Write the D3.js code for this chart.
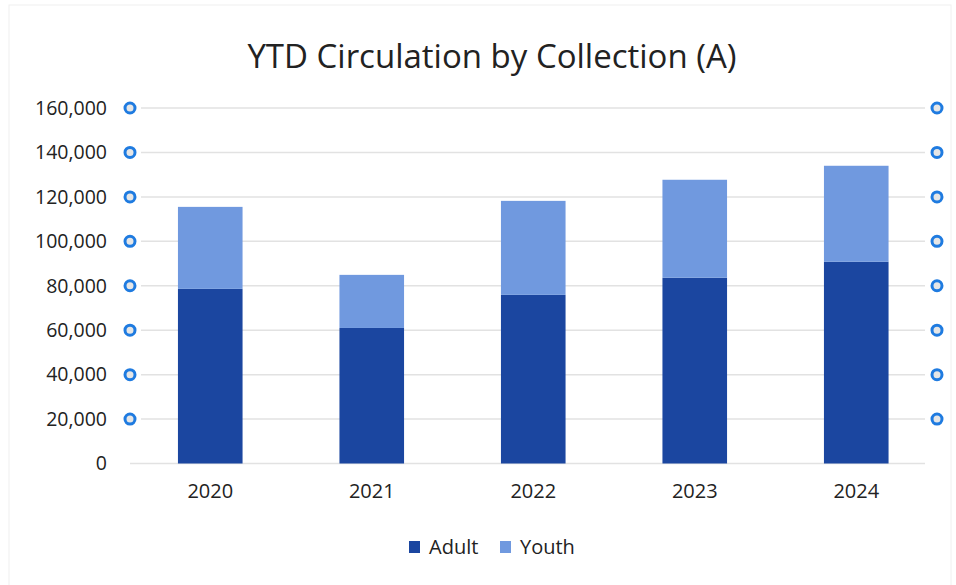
<!DOCTYPE html>
<html>
<head>
<meta charset="utf-8">
<script src="https://cdn.jsdelivr.net/npm/d3@7"></script>
<style>
  body { margin: 0; background: #fff; }
  text { font-family: "Open Sans", "Noto Sans", sans-serif; fill: #222; }
</style>
</head>
<body>
<div id="chart"></div>
<script>
// values
const years = ["2020", "2021", "2022", "2023", "2024"];
const adult = [78600, 61000, 75900, 83600, 90800];
const youth = [36900, 23900, 42300, 44100, 43200];
const yTicks = [0, 20000, 40000, 60000, 80000, 100000, 120000, 140000, 160000];
const seriesNames = ["Adult", "Youth"];
const seriesColors = ["#1b46a0", "#7099df"];

const width = 956, height = 585;

const svg = d3.select("#chart").append("svg")
    .attr("width", width)
    .attr("height", height);

// faint scan border
svg.append("rect")
    .attr("x", 9).attr("y", 5)
    .attr("width", width - 14).attr("height", height - 4)
    .attr("fill", "none")
    .attr("stroke", "#f0f0f0");

svg.append("text")
    .attr("x", 492).attr("y", 68)
    .attr("text-anchor", "middle")
    .style("font-size", "33px")
    .text("YTD Circulation by Collection (A)");

const table = years.map((yr, i) => ({year: yr, Adult: adult[i], Youth: youth[i]}));
const stacked = d3.stack().keys(seriesNames)(table);

const x = d3.scaleBand()
    .domain(years)
    .range([129.5, 937])
    .paddingInner(0.6)
    .paddingOuter(0.3);

const y = d3.scaleLinear()
    .domain([0, 160000])
    .range([463.5, 108]);

// gridlines
svg.append("g")
    .selectAll("line")
    .data(yTicks)
    .join("line")
    .attr("x1", d => d === 0 ? 130 : 141)
    .attr("x2", 925)
    .attr("y1", d => y(d))
    .attr("y2", d => y(d))
    .attr("stroke", "#e2e2e2")
    .attr("stroke-width", 1.5);

// y axis labels
const yAxis = svg.append("g")
    .attr("transform", "translate(113,0)")
    .call(d3.axisLeft(y).tickValues(yTicks).tickSize(0).tickPadding(6)
        .tickFormat(d3.format(",")));
yAxis.select(".domain").remove();
yAxis.selectAll("text").style("font-size", "19.5px").attr("fill", "#222");

// bars
svg.append("g")
    .selectAll("g")
    .data(stacked)
    .join("g")
    .attr("fill", (d, i) => seriesColors[i])
    .selectAll("rect")
    .data(d => d)
    .join("rect")
    .attr("x", d => x(d.data.year))
    .attr("y", d => y(d[1]))
    .attr("width", x.bandwidth())
    .attr("height", d => y(d[0]) - y(d[1]));

// x axis labels
const xAxis = svg.append("g")
    .attr("transform", "translate(0,463.5)")
    .call(d3.axisBottom(x).tickSize(0).tickPadding(20));
xAxis.select(".domain").remove();
xAxis.selectAll("text").style("font-size", "20px").attr("fill", "#222");

// selection handles on both sides
const handles = yTicks.filter(d => d > 0);
[130, 937].forEach(cx => {
    svg.append("g")
        .selectAll("circle")
        .data(handles)
        .join("circle")
        .attr("cx", cx)
        .attr("cy", d => y(d))
        .attr("r", 5)
        .attr("fill", "#e6e6e6")
        .attr("stroke", "#1f7be0")
        .attr("stroke-width", 3);
});

// legend
const legend = svg.append("g").attr("transform", "translate(409,547)");
const items = legend.selectAll("g")
    .data(seriesNames)
    .join("g")
    .attr("transform", (d, i) => "translate(" + (i * 91) + ",0)");
items.append("rect")
    .attr("x", 0).attr("y", -6)
    .attr("width", 11).attr("height", 12)
    .attr("fill", (d, i) => seriesColors[i]);
items.append("text")
    .attr("x", 20).attr("y", 7)
    .style("font-size", "20px")
    .text(d => d);
</script>
</body>
</html>
